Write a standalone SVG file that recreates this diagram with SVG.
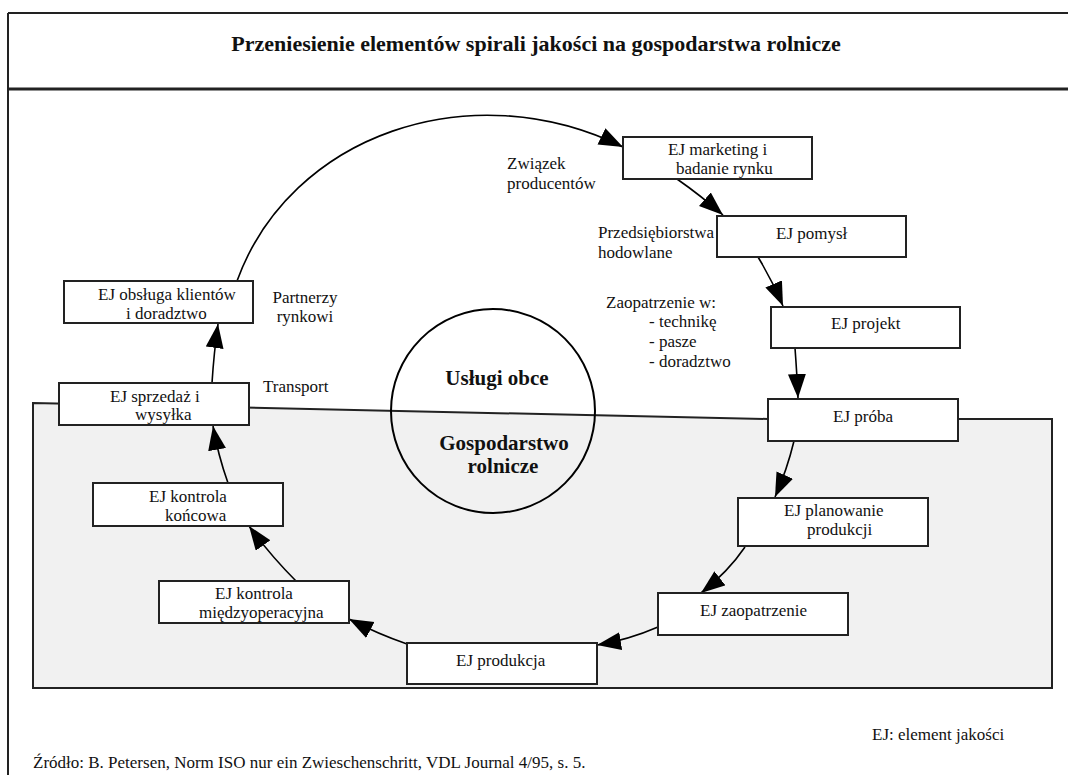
<svg xmlns="http://www.w3.org/2000/svg" width="1068" height="775" viewBox="0 0 1068 775">
  <defs>
    <marker id="arrow" markerUnits="userSpaceOnUse" markerWidth="26" markerHeight="20" refX="24" refY="9" orient="auto">
      <path d="M0,0 L24,9 L0,18 z" fill="#000"/>
    </marker>
    <style>
      text { font-family: "Liberation Serif", "Times New Roman", serif; fill: #111; }
      .t { font-size: 17px; }
      .b { font-size: 21px; font-weight: bold; }
      .title { font-size: 22px; font-weight: bold; }
      .box { fill: #fff; stroke: #222; stroke-width: 2; }
      .conn { fill: none; stroke: #000; stroke-width: 1.6; marker-end: url(#arrow); }
      .frame { stroke: #222; fill: none; }
    </style>
  </defs>

  <rect width="1068" height="775" fill="#fff"/>

  <!-- page frame -->
  <g id="frame">
    <line class="frame" x1="8" y1="13" x2="1068" y2="13" stroke-width="2"/>
    <line class="frame" x1="8" y1="13" x2="8" y2="775" stroke-width="2"/>
    <line class="frame" x1="8" y1="89" x2="1068" y2="89" stroke-width="3" stroke="#000"/>
    <text class="title" x="536" y="51" text-anchor="middle">Przeniesienie elementów spirali jakości na gospodarstwa rolnicze</text>
  </g>

  <!-- farm area (shaded) and the two spheres -->
  <g id="farm-area">
    <polygon points="33,403 768,419 1052,419 1052,688 33,688" fill="#f1f1f1" stroke="#222" stroke-width="2"/>
  </g>
  <g id="spheres">
    <circle cx="493" cy="411" r="102" fill="none" stroke="#000" stroke-width="2"/>
    <text class="b" x="497" y="385" text-anchor="middle">Usługi obce</text>
    <text class="b" x="504" y="450" text-anchor="middle">Gospodarstwo</text>
    <text class="b" x="503" y="473" text-anchor="middle">rolnicze</text>
  </g>

  <!-- connectors of the quality spiral -->
  <g id="connectors">
    <path class="conn" d="M212,383 Q214,352 218,324"/>
    <path class="conn" d="M237,281 C290,135 470,72 623,147"/>
    <path class="conn" d="M677,179 Q700,195 723,215"/>
    <path class="conn" d="M758,257 Q772,280 783,306"/>
    <path class="conn" d="M795,348 Q797,375 798,398"/>
    <path class="conn" d="M794,441 Q787,470 775,497"/>
    <path class="conn" d="M745,547 Q728,572 701,593"/>
    <path class="conn" d="M658,627 Q628,640 597,645"/>
    <path class="conn" d="M407,644 Q378,634 349,619"/>
    <path class="conn" d="M296,581 Q270,555 249,526"/>
    <path class="conn" d="M228,483 Q218,455 213,426"/>
  </g>

  <!-- side labels -->
  <g id="labels">
    <text class="t" x="305" y="303" text-anchor="middle">Partnerzy</text>
    <text class="t" x="305" y="322" text-anchor="middle">rynkowi</text>
    <text class="t" x="263" y="392">Transport</text>
    <text class="t" x="507" y="169">Związek</text>
    <text class="t" x="507" y="189">producentów</text>
    <text class="t" x="598" y="238">Przedsiębiorstwa</text>
    <text class="t" x="598" y="258">hodowlane</text>
    <text class="t" x="606" y="308">Zaopatrzenie w:</text>
    <text class="t" x="649" y="327">- technikę</text>
    <text class="t" x="649" y="347">- pasze</text>
    <text class="t" x="649" y="367">- doradztwo</text>
  </g>

  <!-- quality elements -->
  <g id="obsluga">
    <rect class="box" x="64" y="281" width="189" height="42"/>
    <text class="t" x="98" y="300">EJ obsługa klientów</text>
    <text class="t" x="126" y="319">i doradztwo</text>
  </g>
  <g id="sprzedaz">
    <rect class="box" x="59" y="383" width="190" height="42"/>
    <text class="t" x="110" y="402">EJ sprzedaż i</text>
    <text class="t" x="135" y="420">wysyłka</text>
  </g>
  <g id="marketing">
    <rect class="box" x="623" y="137" width="189" height="42"/>
    <text class="t" x="668" y="155">EJ marketing i</text>
    <text class="t" x="676" y="174">badanie rynku</text>
  </g>
  <g id="pomysl">
    <rect class="box" x="717" y="216" width="189" height="41"/>
    <text class="t" x="776" y="239">EJ pomysł</text>
  </g>
  <g id="projekt">
    <rect class="box" x="771" y="307" width="189" height="41"/>
    <text class="t" x="831" y="329">EJ projekt</text>
  </g>
  <g id="proba">
    <rect class="box" x="768" y="399" width="190" height="42"/>
    <text class="t" x="833" y="422">EJ próba</text>
  </g>
  <g id="planowanie">
    <rect class="box" x="738" y="498" width="190" height="48"/>
    <text class="t" x="784" y="516">EJ planowanie</text>
    <text class="t" x="807" y="535">produkcji</text>
  </g>
  <g id="zaopatrzenie">
    <rect class="box" x="658" y="593" width="190" height="42"/>
    <text class="t" x="700" y="616">EJ zaopatrzenie</text>
  </g>
  <g id="produkcja">
    <rect class="box" x="407" y="643" width="190" height="41"/>
    <text class="t" x="456" y="666">EJ produkcja</text>
  </g>
  <g id="miedzyoperacyjna">
    <rect class="box" x="159" y="581" width="190" height="42"/>
    <text class="t" x="215" y="599">EJ kontrola</text>
    <text class="t" x="199" y="618">międzyoperacyjna</text>
  </g>
  <g id="koncowa">
    <rect class="box" x="93" y="483" width="190" height="43"/>
    <text class="t" x="149" y="502">EJ kontrola</text>
    <text class="t" x="165" y="521">końcowa</text>
  </g>

  <!-- legend and source -->
  <g id="footer">
    <text class="t" x="872" y="740">EJ: element jakości</text>
    <text class="t" x="33" y="768">Źródło: B. Petersen, Norm ISO nur ein Zwieschenschritt, VDL Journal 4/95, s. 5.</text>
  </g>
</svg>
